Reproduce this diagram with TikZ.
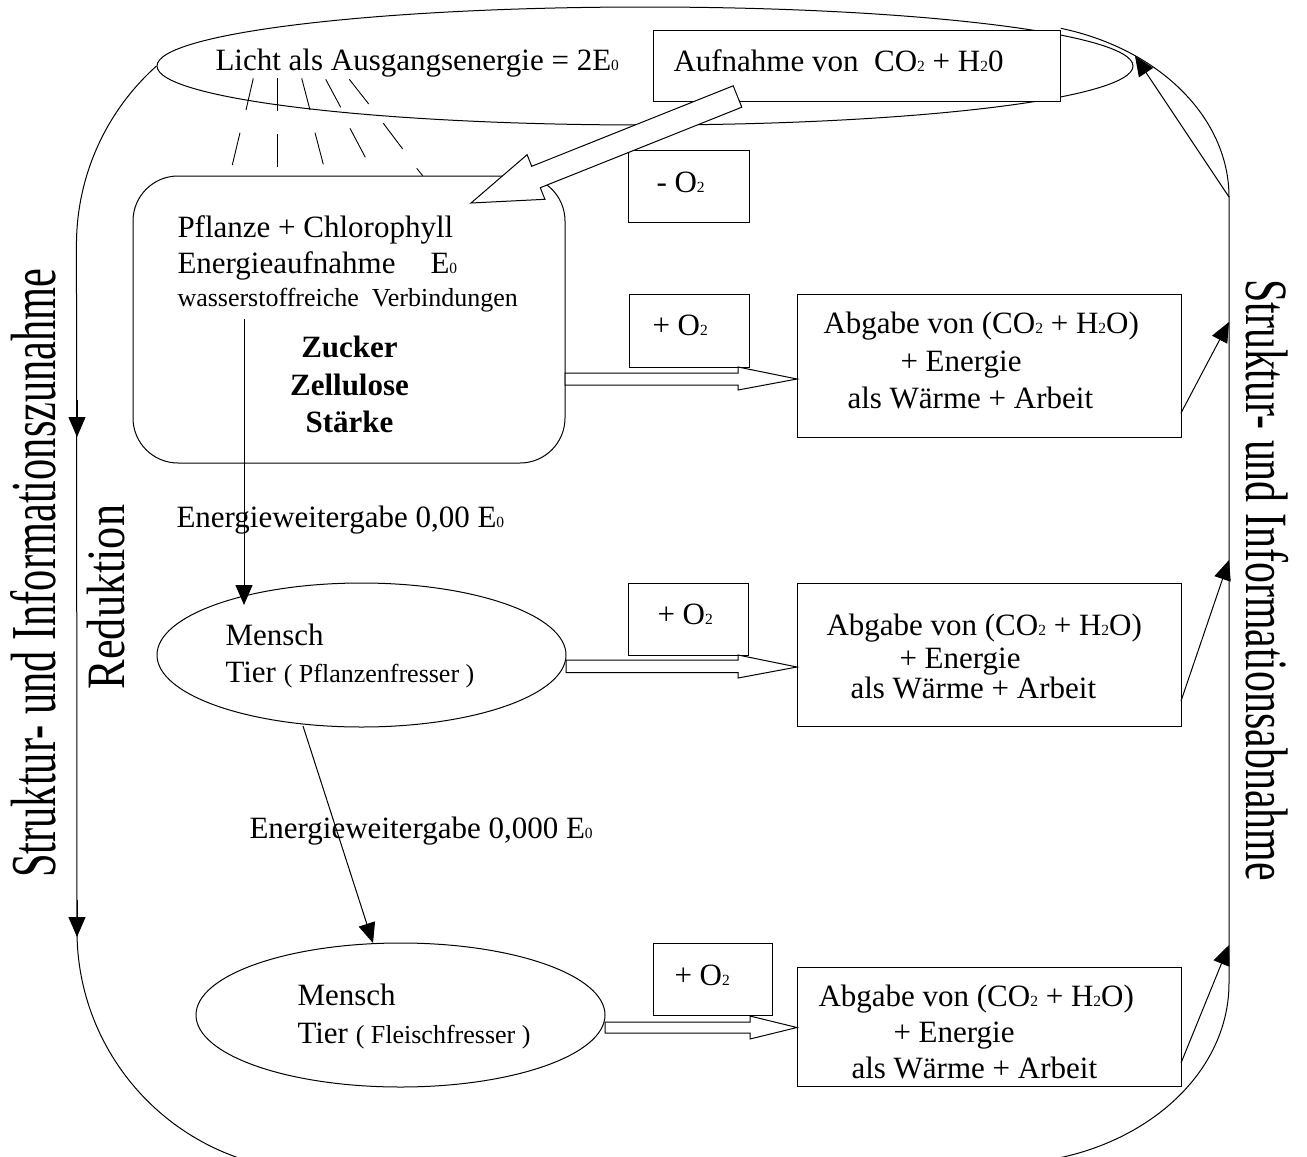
\documentclass[tikz,border=0pt]{standalone}
\usepackage{fontspec}
\setmainfont{Liberation Serif}
\usetikzlibrary{shapes.geometric,arrows.meta,calc}
\newcommand\mysub[1]{\scalebox{0.5}{#1}}
\begin{document}
\begin{tikzpicture}[x=1pt,y=-1pt,line width=1pt,
  box/.style={draw,fill=white,rectangle,inner sep=0},
  ell/.style={draw,ellipse,inner sep=0},
  txt/.style={inner sep=0,anchor=base west,font=\fontsize{31}{36}\selectfont},
  stxt/.style={inner sep=0,anchor=base west,font=\fontsize{26}{30}\selectfont},
  btxt/.style={inner sep=0,anchor=base,font=\fontsize{31}{36}\selectfont\bfseries},
  arr/.style={-{Triangle[length=20pt,width=17pt]}},
  hollow/.style={draw,fill=white,line join=miter},
  ray/.style={line width=0.9pt}]
\useasboundingbox (0,0) rectangle (1307,1157);
\fill[white] (0,0) rectangle (1307,1157);
\clip (0,0) rectangle (1307,1157);

% top ellipse
\node[ell,minimum width=976,minimum height=118] (licht) at (645,66) {};

% big loop
\draw (licht.west) arc[start angle=228.2,end angle=180,radius=240] -- (77,931)
  arc[start angle=180,end angle=90,radius=240] -- (1000,1164)
  arc[start angle=90,end angle=0,x radius=229,y radius=181] -- (1229,197)
  arc[start angle=0,end angle=-74.6,x radius=229,y radius=175];

% light rays
\draw[ray] (253.3,78.3) -- (246,110);
\draw[ray] (277.7,78.3) -- (277.7,110.7);
\draw[ray] (301.7,78.3) -- (310,110);
\draw[ray] (325.7,79.3) -- (340.7,107.3);
\draw[ray] (349.3,79.3) -- (368.7,104);
\draw[ray] (240,132.7) -- (232.3,165);
\draw[ray] (277.7,134.3) -- (277.7,166.7);
\draw[ray] (315,132.7) -- (323.3,164.3);
\draw[ray] (350,128.3) -- (365.3,157.3);
\draw[ray] (383.3,123.3) -- (402.7,149);
\draw[ray] (416.7,168.3) -- (422.7,175.7);

\node[txt] (lichtt) at (215,70) {Licht als Ausgangsenergie = 2E\mysub{0}};

% Aufnahme box
\node[box,minimum width=407,minimum height=71] (auf) at (856.5,65.5) {};
\node[txt] (auft) at (673,71) {Aufnahme von\ \ CO\mysub{2} + H\mysub{2}0};

% -O2 box
\node[box,minimum width=121,minimum height=72] (mo) at (688.5,186) {};
\node[txt] (mot) at (656,192) {- O\mysub{2}};

% Pflanze box
\node[box,rounded corners=45,minimum width=432,minimum height=287] (pfl) at (349,319.5) {};

% block arrow Aufnahme -> Pflanze
\draw[hollow] (733.2,85.8) -- (531.7,166.3) -- (527.1,154.7) -- (471,203)
  -- (544.9,199.3) -- (540.3,187.7) -- (741.8,107.2) -- cycle;

\node[txt] (p1) at (177,237) {Pflanze + Chlorophyll};
\node[txt] (p2) at (177,273) {Energieaufnahme};
\node[txt] (p2b) at (430,273) {E\mysub{0}};
\node[stxt] (p3) at (177,306) {wasserstoffreiche\ \ Verbindungen};
\node[btxt] (z1) at (349.5,357) {Zucker};
\node[btxt] (z2) at (349.5,395) {Zellulose};
\node[btxt] (z3) at (349.5,432) {Stärke};

% Mensch ellipses
\node[ell,fill=white,minimum width=409,minimum height=144] (m1) at (361.5,655) {};
\node[ell,fill=white,minimum width=409,minimum height=144] (m2) at (400.5,1015) {};
\node[txt] (m1a) at (225,645) {Mensch};
\node[txt] (m1b) at (225,682) {Tier {\fontsize{26}{30}\selectfont( Pflanzenfresser )}};
\node[txt] (m2a) at (297,1005) {Mensch};
\node[txt] (m2b) at (297,1043) {Tier {\fontsize{26}{30}\selectfont( Fleischfresser )}};

% energy transfer arrows
\coordinate (s1) at (244,319);
\coordinate (t1) at (244,605);
\draw[arr] (s1) -- (t1);
\coordinate (s2) at (303,726);
\coordinate (t2) at (373,943);
\draw[arr] (s2) -- (t2);
\node[txt] (e1) at (176,527) {Energieweitergabe 0,00 E\mysub{0}};
\node[txt] (e2) at (249,838) {Energieweitergabe 0,000 E\mysub{0}};

% +O2 boxes
\node[box,minimum width=120,minimum height=73] (po1) at (689,330.5) {};
\node[txt] (po1t) at (652,335) {+ O\mysub{2}};
\node[box,minimum width=120,minimum height=72] (po2) at (688.5,619) {};
\node[txt] (po2t) at (657,624) {+ O\mysub{2}};
\node[box,minimum width=119,minimum height=72] (po3) at (712.5,979) {};
\node[txt] (po3t) at (674,985) {+ O\mysub{2}};

% Abgabe boxes
\node[box,minimum width=384,minimum height=143] (a1) at (989,365.5) {};
\node[txt] (a1a) at (823,333) {Abgabe von (CO\mysub{2} + H\mysub{2}O)};
\node[txt] (a1b) at (900,371) {+ Energie};
\node[txt] (a1c) at (847,408) {als Wärme + Arbeit};
\node[box,minimum width=384,minimum height=143] (a2) at (989,654.5) {};
\node[txt] (a2a) at (826,635) {Abgabe von (CO\mysub{2} + H\mysub{2}O)};
\node[txt] (a2b) at (899,668) {+ Energie};
\node[txt] (a2c) at (850,698) {als Wärme + Arbeit};
\node[box,minimum width=384,minimum height=119] (a3) at (989,1026.5) {};
\node[txt] (a3a) at (818,1006) {Abgabe von (CO\mysub{2} + H\mysub{2}O)};
\node[txt] (a3b) at (893,1042) {+ Energie};
\node[txt] (a3c) at (851,1078) {als Wärme + Arbeit};

% hollow arrows
\draw[hollow] (565,373) -- (738,373) -- (738,367) -- (797,379) -- (738,390) -- (738,385) -- (565,385) -- cycle;
\draw[hollow] (566,660) -- (738,660) -- (738,655) -- (797,667) -- (738,678) -- (738,672.5) -- (566,672.5) -- cycle;
\draw[hollow] (605,1022) -- (750,1022) -- (750,1016) -- (797,1027.5) -- (750,1039) -- (750,1033) -- (605,1033) -- cycle;

% right arrows to loop
\coordinate (r1s) at (1181,413); \coordinate (r1t) at (1229,322);
\coordinate (r2s) at (1181,701); \coordinate (r2t) at (1229,560);
\coordinate (r3s) at (1181,1063); \coordinate (r3t) at (1229,945);
\coordinate (r4s) at (1229,197); \coordinate (r4t) at (1135,56);
\draw[arr] (r1s) -- (r1t);
\draw[arr] (r2s) -- (r2t);
\draw[arr] (r3s) -- (r3t);
\draw[arr] (r4s) -- (r4t);

% left arrowheads on loop
\coordinate (l1s) at (77,400); \coordinate (l1t) at (77,437);
\coordinate (l2s) at (77,900); \coordinate (l2t) at (77,937);
\draw[arr] (l1s) -- (l1t);
\draw[arr] (l2s) -- (l2t);

% vertical labels
\node[inner sep=0,anchor=base,rotate=90] (lz) at (55,573)
  {\scalebox{0.663}[1]{\fontsize{64}{64}\selectfont Struktur- und Informationszunahme}};
\node[inner sep=0,anchor=base,rotate=90] (red) at (124,597)
  {\scalebox{0.82}[1]{\fontsize{54}{54}\selectfont Reduktion}};
\node[inner sep=0,anchor=base,rotate=-90] (ra) at (1246,580)
  {\scalebox{0.698}[1]{\fontsize{60}{60}\selectfont Struktur- und Informationsabnahme}};
\end{tikzpicture}
\end{document}
